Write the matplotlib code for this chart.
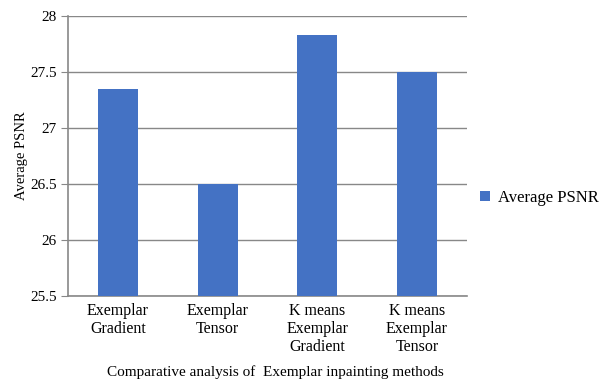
import matplotlib.pyplot as plt

plt.rcParams['font.family'] = ['Liberation Serif', 'DejaVu Serif']

methods = ['Exemplar\nGradient', 'Exemplar\nTensor',
           'K means\nExemplar\nGradient', 'K means\nExemplar\nTensor']
avg_psnr = [27.35, 26.5, 27.83, 27.5]
yticks = [25.5, 26, 26.5, 27, 27.5, 28]

fig = plt.figure(figsize=(6.08, 3.81), dpi=100)
ax = fig.add_axes([0.112, 0.223, 0.656, 0.735])

ax.bar(range(len(methods)), avg_psnr, width=0.4, color='#4472C4',
       label='Average PSNR', zorder=3)

ax.set_ylim(25.5, 28)
ax.set_xlim(-0.5, len(methods) - 0.5)
ax.set_yticks(yticks)
ax.set_yticklabels(['25.5', '26', '26.5', '27', '27.5', '28'], fontsize=11)
ax.set_xticks(range(len(methods)))
ax.set_xticklabels(methods, fontsize=11.5, va='top', linespacing=1.15)
ax.tick_params(axis='x', length=0, pad=5)
ax.tick_params(axis='y', length=5, color='#888888', pad=3)

ax.grid(axis='y', color='#888888', linewidth=1, zorder=0)
for side in ['top', 'right']:
    ax.spines[side].set_visible(False)
for side in ['left', 'bottom']:
    ax.spines[side].set_color('#888888')
    ax.spines[side].set_linewidth(1.2)

ax.set_ylabel('Average PSNR', fontsize=10.5, labelpad=2)
fig.text(0.453, 0.012, 'Comparative analysis of  Exemplar inpainting methods',
         ha='center', fontsize=11)

ax.legend(loc='center left', bbox_to_anchor=(0.995, 0.35), frameon=False,
          fontsize=12, handlelength=0.6, handleheight=0.6, handletextpad=0.5)

fig.savefig('out.png', dpi=100)
